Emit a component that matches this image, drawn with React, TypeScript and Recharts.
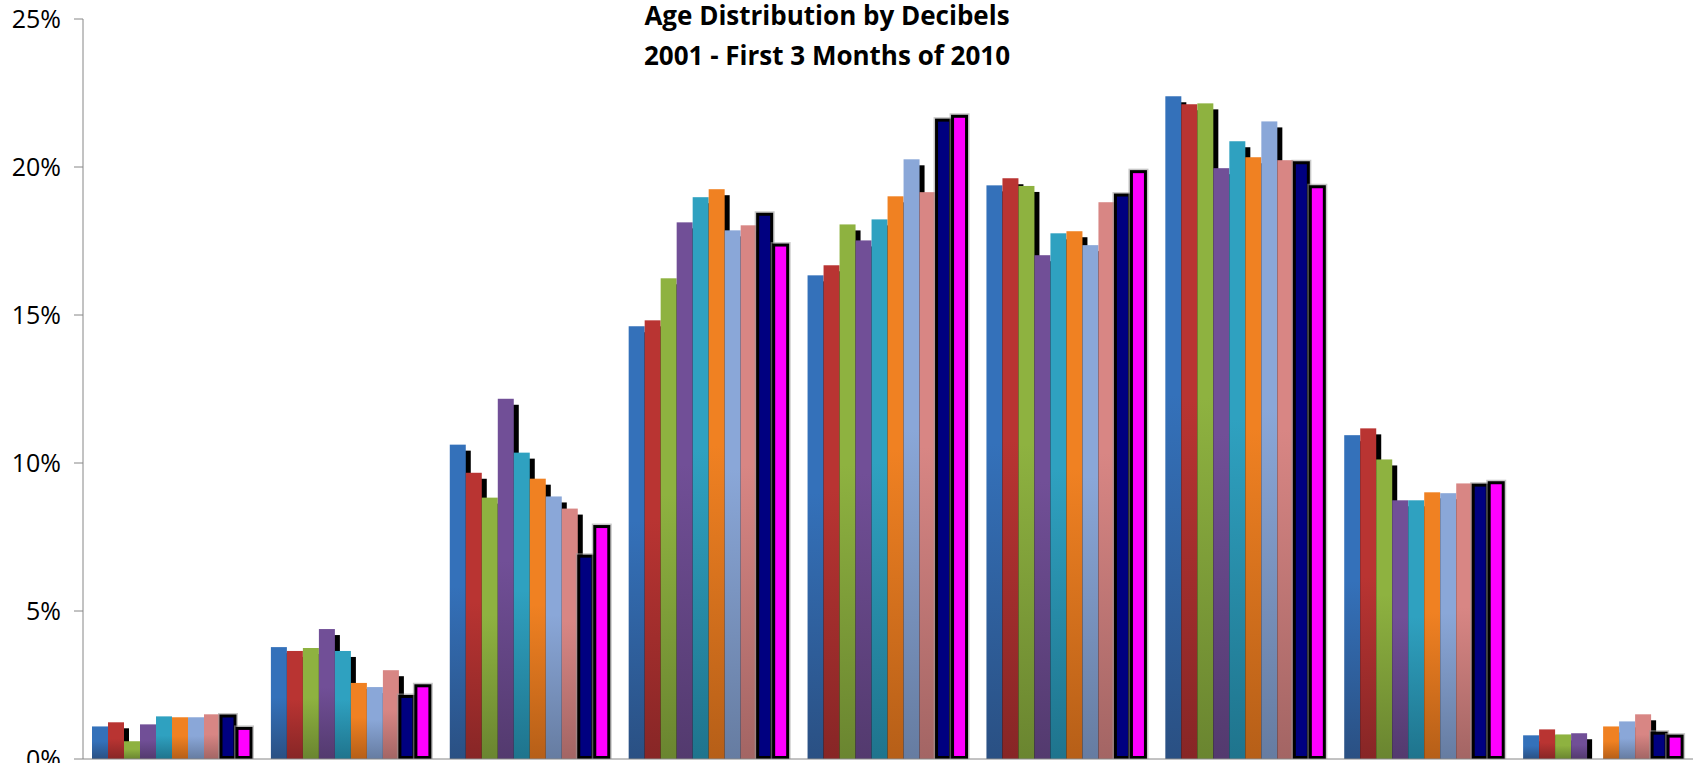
import { FC, JSX } from "react";
import { Bar, BarChart, XAxis, YAxis } from "recharts";

// age bands (labels sit below the visible area of the original)
const categories = ["A1", "A2", "A3", "A4", "A5", "A6", "A7", "A8", "A9"];
const years = ["2001", "2002", "2003", "2004", "2005", "2006", "2007", "2008", "2009", "2010"];

const y2001 = [1.1, 3.78, 10.62, 14.62, 16.34, 19.38, 22.39, 10.94, 0.8];
const y2002 = [1.24, 3.65, 9.67, 14.82, 16.68, 19.62, 22.12, 11.17, 1.0];
const y2003 = [0.6, 3.75, 8.83, 16.24, 18.06, 19.36, 22.15, 10.12, 0.83];
const y2004 = [1.17, 4.39, 12.17, 18.13, 17.52, 17.02, 19.96, 8.74, 0.87];
const y2005 = [1.44, 3.65, 10.35, 18.98, 18.23, 17.76, 20.87, 8.74, 0];
const y2006 = [1.41, 2.57, 9.47, 19.25, 19.01, 17.83, 20.33, 9.01, 1.1];
const y2007 = [1.41, 2.43, 8.87, 17.86, 20.26, 17.36, 21.54, 8.98, 1.27];
const y2008 = [1.51, 3.0, 8.46, 18.03, 19.15, 18.81, 20.23, 9.31, 1.51];
const y2009 = [1.47, 2.13, 6.87, 18.42, 21.6, 19.07, 20.16, 9.27, 0.89];
const y2010 = [1.05, 2.49, 7.87, 17.38, 21.73, 19.86, 19.35, 9.35, 0.79];

const yTicks = [0, 5, 10, 15, 20, 25];

const seriesValues = [y2001, y2002, y2003, y2004, y2005, y2006, y2007, y2008, y2009, y2010];

const data = categories.map((name, i) => {
  const row: any = { name };
  years.forEach((yr, s) => {
    row[yr] = seriesValues[s][i];
  });
  return row;
});

// top / bottom colours of the gradient bars
const gradients = [
  ["#3471ba", "#2a5083"],
  ["#b93432", "#872626"],
  ["#8eb240", "#6a8530"],
  ["#714f97", "#533a6e"],
  ["#2fa1c0", "#1f748d"],
  ["#f08122", "#b65f18"],
  ["#8aa7d8", "#667ca1"],
  ["#d88684", "#a36564"],
];
const solidColors = ["#000080", "#ff00ff"];

const ShadowBar = (props: any) => {
  const { x, y, width, height, fill } = props;
  if (!height || height <= 0) return null;
  return (
    <g>
      <rect x={x + 5} y={y + 6} width={width} height={Math.max(0, height - 6)} fill="#000" />
      <rect x={x} y={y} width={width} height={height} fill={fill} />
    </g>
  );
};

const OutlineBar = (props: any) => {
  const { x, y, width, height, fill } = props;
  if (!height || height <= 0) return null;
  return (
    <g>
      <rect
        x={x + 1}
        y={y + 0.5}
        width={width - 2}
        height={Math.max(0, height - 3.5)}
        fill="none"
        stroke="#9a9a9a"
        strokeOpacity={0.55}
        strokeWidth={6}
      />
      <rect
        x={x + 1}
        y={y + 0.5}
        width={width - 2}
        height={Math.max(0, height - 2)}
        fill={fill}
        stroke="#000"
        strokeWidth={3}
      />
    </g>
  );
};

// Excel style ticks between the categories
const BoundaryTick = (props: any) => {
  const { x, y, index, width } = props;
  const band = (width || 1610) / categories.length;
  const left = x - band / 2;
  return (
    <g>
      <line x1={left} y1={y} x2={left} y2={y + 6} stroke="#868686" />
      {index === categories.length - 1 && (
        <line x1={left + band} y1={y} x2={left + band} y2={y + 6} stroke="#868686" />
      )}
    </g>
  );
};

const titleStyle = {
  fontFamily: "'Open Sans', sans-serif",
  fontWeight: "bold" as const,
  fontSize: 26,
  fill: "#000",
};

const App: FC = (): JSX.Element => {
  return (
    <div
      style={{
        position: "absolute",
        left: 0,
        top: 0,
        width: 1703,
        height: 763,
        background: "#fff",
        overflow: "hidden",
      }}
    >
      <BarChart
        width={1703}
        height={763}
        data={data}
        margin={{ top: 19, right: 10, left: 0, bottom: 0 }}
        barCategoryGap={9}
        barGap={0}
      >
        <defs>
          {gradients.map((g, i) => (
            <linearGradient key={i} id={`grad${i}`} x1="0" y1="0" x2="0" y2="1">
              <stop offset="0%" stopColor={g[0]} />
              <stop offset="45%" stopColor={g[0]} stopOpacity={1} />
              <stop offset="100%" stopColor={g[1]} />
            </linearGradient>
          ))}
        </defs>
        <text x={827} y={25} textAnchor="middle" style={titleStyle}>
          Age Distribution by Decibels
        </text>
        <text x={827} y={65} textAnchor="middle" style={titleStyle}>
          2001 - First 3 Months of 2010
        </text>
        <XAxis
          dataKey="name"
          height={4}
          stroke="#868686"
          tickLine={false}
          tick={<BoundaryTick />}
          interval={0}
        />
        <YAxis
          width={83}
          domain={[0, 25]}
          ticks={yTicks}
          tickFormatter={(v: number) => `${v}%`}
          stroke="#868686"
          tickSize={9}
          tickMargin={13}
          tick={{ fill: "#000", fontSize: 25, fontFamily: "'Open Sans', sans-serif" }}
          interval={0}
        />
        {years.map((yr, i) =>
          i < 8 ? (
            <Bar
              key={yr}
              dataKey={yr}
              fill={`url(#grad${i})`}
              shape={<ShadowBar />}
              isAnimationActive={false}
            />
          ) : (
            <Bar
              key={yr}
              dataKey={yr}
              fill={solidColors[i - 8]}
              shape={<OutlineBar />}
              isAnimationActive={false}
            />
          )
        )}
      </BarChart>
    </div>
  );
};

export default App;
